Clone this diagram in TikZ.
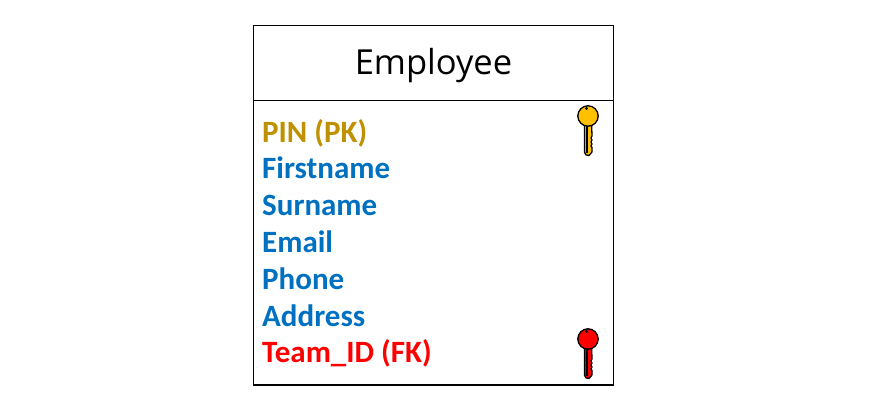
\documentclass[tikz,border=0pt]{standalone}
\usepackage{fontspec}
\setmainfont{Carlito}
\newfontfamily\titlefont{Open Sans}
\usetikzlibrary{matrix,positioning}
\definecolor{pkgold}{RGB}{191,144,0}
\definecolor{attrblue}{RGB}{0,112,192}
\definecolor{keygold}{RGB}{255,192,0}
\tikzset{
  x=1pt, y=1pt,
  entitybox/.style={draw, line width=1.7pt, minimum width=360pt, inner sep=0pt, outer sep=0pt},
  attr/.style={font=\bfseries\fontsize{31}{31}\selectfont, anchor=base west, text height=27pt, text depth=9.8pt, inner sep=0pt},
  pics/entitykey/.style={code={
    \draw[line width=1.3pt, fill=#1, line join=round]
      (-3.6,-8) -- (-3.6,-36) .. controls (-3.6,-39) and (-1,-39.5) .. (1,-39.5)
      -- (4,-36) -- (4,-31.5) -- (3,-30) -- (4,-28) -- (3,-26) -- (4,-24) -- (3,-22) -- (4,-20) -- (3.6,-8) -- cycle;
    \draw[line width=1.3pt, fill=#1] (0,0) circle (10.2);
    \draw[line width=1.6pt] (-1.3,-10) -- (-1.3,-37);
    \fill (-1.5,7.6) circle (1.6);
  }},
}
\begin{document}
\begin{tikzpicture}
    \useasboundingbox (0,0) rectangle (889,412);
    \node (header) [entitybox, minimum height=75pt, anchor=north west] at (253.5,386.5) {};
    \node (body) [entitybox, minimum height=284.5pt, anchor=north west] at (header.south west) {};
    \node (title) at (header.center) [yshift=-2.5pt, font=\titlefont\fontsize{34.5}{34.5}\selectfont] {Employee};
    \matrix (attrs) [matrix of nodes, inner sep=0pt, row sep=0pt, nodes={attr, text=attrblue}, anchor=north west] at (262,297)
    {
      |[text=pkgold]| PIN (PK) \\
      Firstname \\
      Surname \\
      Email \\
      Phone \\
      Address \\
      |[text=red]| Team\_ID (FK) \\
    };
    \pic (pkkey) at (588,296) {entitykey=keygold};
    \pic (fkkey) at (588,73) {entitykey=red};
  \end{tikzpicture}
\end{document}
